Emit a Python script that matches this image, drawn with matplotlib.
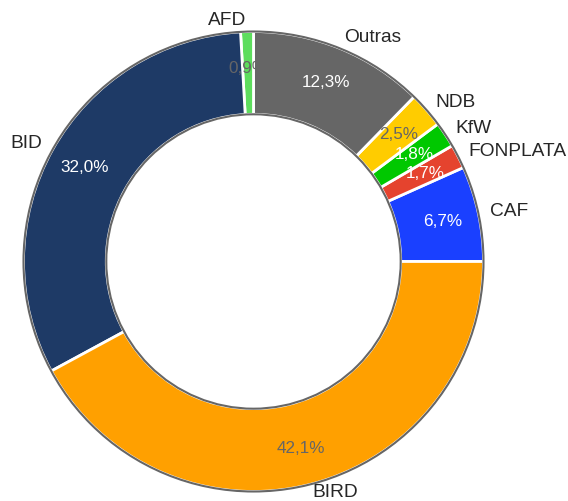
import matplotlib.pyplot as plt
from matplotlib.patches import Circle

# dados (ordem anti-horária a partir das 3h)
credores = ["CAF", "FONPLATA", "KfW", "NDB", "Outras", "AFD", "BID", "BIRD"]
participacao = [6.7, 1.7, 1.8, 2.5, 12.3, 0.9, 32.0, 42.1]
cores = ["#1a40ff", "#e5432e", "#00c800", "#ffcc00", "#666666",
         "#5ddd5d", "#1e3a66", "#ffa000"]
cor_pct = ["white", "white", "white", "#666666", "white",
           "#666666", "white", "#666666"]

plt.rcParams["font.family"] = ["Liberation Sans", "DejaVu Sans"]

fig = plt.figure(figsize=(5.68, 5.01), dpi=100)
ax = fig.add_axes([0, 0, 1, 1])

wedges, textos, pcts = ax.pie(
    participacao,
    labels=credores,
    colors=cores,
    startangle=0,
    counterclock=True,
    autopct=lambda p: f"{p:.1f}%".replace(".", ","),
    pctdistance=0.84,
    labeldistance=1.05,
    wedgeprops=dict(width=0.36, edgecolor="white", linewidth=2),
    textprops=dict(fontsize=13.8, color="#262626"),
)

for t, c in zip(pcts, cor_pct):
    t.set_color(c)
    t.set_fontsize(12.3)

# BIRD um pouco acima para não encostar na borda
x, y = textos[-1].get_position()
textos[-1].set_position((x, y + 0.012))

# contornos cinza
ax.add_patch(Circle((0, 0), 1.0, fill=False, ec="#666666", lw=1.5))
ax.add_patch(Circle((0, 0), 0.64, fill=False, ec="#666666", lw=1.5))

# escala: raio externo = 230 px, centro em (253.5, 261.5)
r = 230
ax.set_aspect("auto")
ax.set_xlim(-253.5 / r, (568 - 253.5) / r)
ax.set_ylim(-(501 - 261.5) / r, 261.5 / r)
ax.axis("off")

fig.savefig("out.png", dpi=100)
